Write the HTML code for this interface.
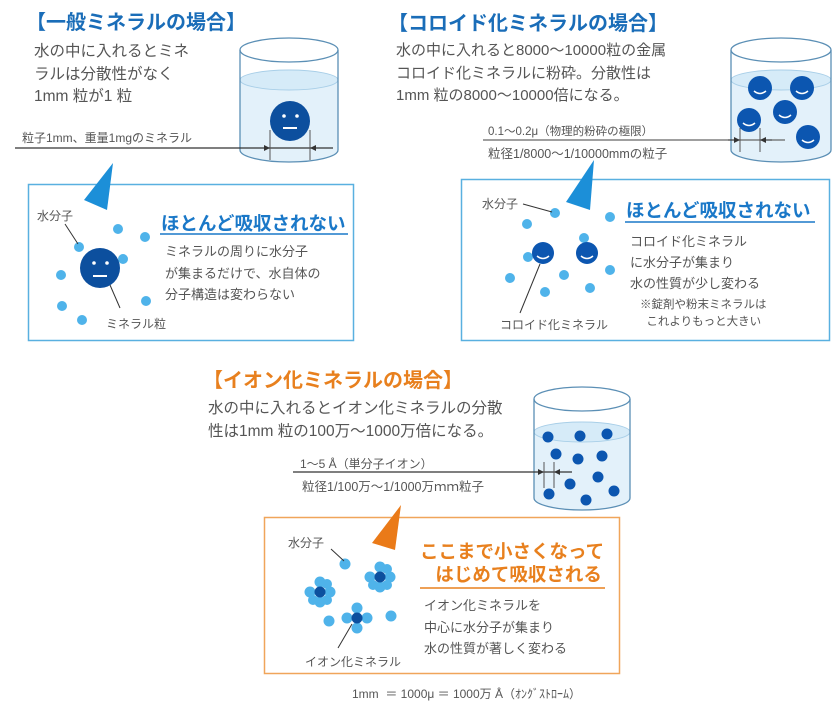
<!DOCTYPE html>
<html><head><meta charset="utf-8"><style>
html,body{margin:0;padding:0;background:#fff;}
body{width:840px;height:710px;position:relative;overflow:hidden;font-family:"Liberation Sans","Noto Sans CJK JP",sans-serif;}
.t{position:absolute;white-space:nowrap;color:#555;}
.h{font-weight:bold;color:#1a6db8;font-size:20px;}
.b{font-size:15.5px;line-height:22.5px;color:#555;}
.s{font-size:12px;color:#555;}
.hd{font-weight:bold;color:#1a78c8;font-size:18.5px;}
.o{color:#e8801e;}
svg{position:absolute;left:0;top:0;}
</style></head><body>
<svg width="840" height="710" viewBox="0 0 840 710">
<defs>
<marker id="ar" viewBox="0 0 10 10" refX="10" refY="5" markerWidth="6" markerHeight="6" orient="auto"><path d="M0,0L10,5L0,10z" fill="#333"/></marker>
</defs>
<path d="M240,80 A49,10 0 0 0 338,80 L338,150 A49,12 0 0 1 240,150 Z" fill="#e3f1fa"/>
<ellipse cx="289" cy="80" rx="49" ry="10" fill="#d6ebf8" stroke="#a9cfe8" stroke-width="1"/>
<ellipse cx="289" cy="50" rx="49" ry="12" fill="none" stroke="#5b8fb5" stroke-width="1.3"/>
<path d="M240,50 L240,150 A49,12 0 0 0 338,150 L338,50" fill="none" stroke="#5b8fb5" stroke-width="1.3"/>
<circle cx="290" cy="121" r="20" fill="#0c4f9e"/>
<circle cx="284" cy="116" r="1.8" fill="#fff"/><circle cx="297" cy="116" r="1.8" fill="#fff"/>
<rect x="283" y="127" width="14" height="2" fill="#fff"/>
<line x1="15" y1="148" x2="333" y2="148" stroke="#333" stroke-width="1.2"/>
<line x1="270" y1="130" x2="270" y2="160" stroke="#555"/><line x1="310" y1="130" x2="310" y2="160" stroke="#555"/>
<line x1="255" y1="148" x2="270" y2="148" stroke="#333" marker-end="url(#ar)"/>
<line x1="325" y1="148" x2="310" y2="148" stroke="#333" marker-end="url(#ar)"/>
<rect x="28.5" y="184.5" width="325" height="156" fill="none" stroke="#59b0e0" stroke-width="1.5"/>
<polygon points="113,163 84,200 107,210" fill="#1c8fd8"/>
<line x1="160" y1="234" x2="348" y2="234" stroke="#1a78c8" stroke-width="1.5"/>
<g fill="#4fb3ea"><circle cx="118" cy="229" r="5"/><circle cx="145" cy="237" r="5"/><circle cx="79" cy="247" r="5"/><circle cx="123" cy="259" r="5"/><circle cx="61" cy="275" r="5"/><circle cx="146" cy="301" r="5"/><circle cx="62" cy="306" r="5"/><circle cx="82" cy="320" r="5"/></g>
<circle cx="100" cy="268" r="20" fill="#0c4f9e"/>
<circle cx="94" cy="263" r="1.8" fill="#fff"/><circle cx="107" cy="263" r="1.8" fill="#fff"/>
<rect x="93" y="275" width="14" height="2" fill="#fff"/>
<line x1="65" y1="224" x2="78" y2="244" stroke="#333"/>
<line x1="110" y1="285" x2="120" y2="308" stroke="#333"/>
<path d="M731,80 A50,10 0 0 0 831,80 L831,150 A50,12 0 0 1 731,150 Z" fill="#e3f1fa"/>
<ellipse cx="781" cy="80" rx="50" ry="10" fill="#d6ebf8" stroke="#a9cfe8"/>
<ellipse cx="781" cy="50" rx="50" ry="12" fill="none" stroke="#5b8fb5" stroke-width="1.3"/>
<path d="M731,50 L731,150 A50,12 0 0 0 831,150 L831,50" fill="none" stroke="#5b8fb5" stroke-width="1.3"/>
<g fill="#0c56b0"><circle cx="760" cy="88" r="12"/><circle cx="802" cy="88" r="12"/><circle cx="785" cy="112" r="12"/><circle cx="749" cy="120" r="12"/><circle cx="808" cy="137" r="12"/></g>
<g stroke="#fff" stroke-width="1.5" fill="none"><path d="M754,91 q6,5 12,0"/><path d="M796,91 q6,5 12,0"/><path d="M779,115 q6,5 12,0"/><path d="M743,123 q6,5 12,0"/><path d="M802,140 q6,5 12,0"/></g>
<line x1="483" y1="140" x2="785" y2="140" stroke="#666" stroke-width="1.2"/>
<line x1="728" y1="140" x2="740" y2="140" stroke="#333" marker-end="url(#ar)"/>
<line x1="772" y1="140" x2="760" y2="140" stroke="#333" marker-end="url(#ar)"/>
<line x1="740" y1="128" x2="740" y2="152" stroke="#555"/><line x1="760" y1="128" x2="760" y2="152" stroke="#555"/>
<rect x="461.5" y="179.5" width="368" height="161" fill="none" stroke="#59b0e0" stroke-width="1.5"/>
<polygon points="594,160 566,202 590,210" fill="#1c8fd8"/>
<line x1="625" y1="222" x2="815" y2="222" stroke="#1a78c8" stroke-width="1.5"/>
<g fill="#4fb3ea"><circle cx="555" cy="213" r="5"/><circle cx="527" cy="224" r="5"/><circle cx="610" cy="217" r="5"/><circle cx="584" cy="238" r="5"/><circle cx="528" cy="257" r="5"/><circle cx="610" cy="270" r="5"/><circle cx="564" cy="275" r="5"/><circle cx="510" cy="278" r="5"/><circle cx="590" cy="288" r="5"/><circle cx="545" cy="292" r="5"/></g>
<circle cx="543" cy="253" r="11" fill="#0c56b0"/><circle cx="587" cy="253" r="11" fill="#0c56b0"/>
<g stroke="#fff" stroke-width="1.5" fill="none"><path d="M537,256 q6,5 12,0"/><path d="M581,256 q6,5 12,0"/></g>
<line x1="523" y1="204" x2="552" y2="212" stroke="#333"/>
<line x1="540" y1="264" x2="520" y2="313" stroke="#333"/>
<path d="M534,432 A48,10 0 0 0 630,432 L630,498 A48,12 0 0 1 534,498 Z" fill="#e3f1fa"/>
<ellipse cx="582" cy="432" rx="48" ry="10" fill="#d6ebf8" stroke="#a9cfe8"/>
<ellipse cx="582" cy="399" rx="48" ry="12" fill="none" stroke="#5b8fb5" stroke-width="1.3"/>
<path d="M534,399 L534,498 A48,12 0 0 0 630,498 L630,399" fill="none" stroke="#5b8fb5" stroke-width="1.3"/>
<g fill="#0c56b0"><circle cx="548" cy="437" r="5.5"/><circle cx="580" cy="436" r="5.5"/><circle cx="607" cy="434" r="5.5"/><circle cx="556" cy="454" r="5.5"/><circle cx="578" cy="459" r="5.5"/><circle cx="602" cy="456" r="5.5"/><circle cx="598" cy="477" r="5.5"/><circle cx="570" cy="484" r="5.5"/><circle cx="549" cy="494" r="5.5"/><circle cx="586" cy="500" r="5.5"/><circle cx="614" cy="491" r="5.5"/></g>
<line x1="293" y1="472" x2="572" y2="472" stroke="#333" stroke-width="1.2"/>
<line x1="536" y1="472" x2="544" y2="472" stroke="#333" marker-end="url(#ar)"/>
<line x1="563" y1="472" x2="554" y2="472" stroke="#333" marker-end="url(#ar)"/>
<line x1="544" y1="462" x2="544" y2="488" stroke="#555"/><line x1="554" y1="462" x2="554" y2="488" stroke="#555"/>
<rect x="264.5" y="517.5" width="355" height="156" fill="none" stroke="#f0a55a" stroke-width="1.5"/>
<polygon points="401,505 372,543 395,550" fill="#ea7a18"/>
<line x1="420" y1="588" x2="605" y2="588" stroke="#e8801e" stroke-width="1.5"/>
<g fill="#4fb3ea">
<circle cx="345" cy="564" r="5.5"/><circle cx="329" cy="621" r="5.5"/><circle cx="391" cy="616" r="5.5"/>
<circle cx="320" cy="582" r="5.5"/><circle cx="330" cy="592" r="5.5"/><circle cx="320" cy="602" r="5.5"/><circle cx="310" cy="592" r="5.5"/><circle cx="327" cy="584" r="5"/><circle cx="313" cy="600" r="5"/><circle cx="327" cy="600" r="5"/>
<circle cx="380" cy="567" r="5.5"/><circle cx="390" cy="577" r="5.5"/><circle cx="380" cy="587" r="5.5"/><circle cx="370" cy="577" r="5.5"/><circle cx="387" cy="569" r="5"/><circle cx="373" cy="585" r="5"/><circle cx="387" cy="585" r="5"/>
<circle cx="357" cy="608" r="5.5"/><circle cx="367" cy="618" r="5.5"/><circle cx="357" cy="628" r="5.5"/><circle cx="347" cy="618" r="5.5"/>
</g>
<g fill="#0c4f9e"><circle cx="320" cy="592" r="5.5"/><circle cx="380" cy="577" r="5.5"/><circle cx="357" cy="618" r="5.5"/></g>
<line x1="331" y1="549" x2="344" y2="561" stroke="#333"/>
<line x1="352" y1="624" x2="338" y2="648" stroke="#333"/>
</svg>

<div class="t h" style="left:26px;top:6px;">【一般ミネラルの場合】</div>
<div class="t b" style="left:34px;top:41px;">水の中に入れるとミネ<br>ラルは分散性がなく<br>1mm 粒が1 粒</div>
<div class="t s" style="left:22px;top:129px;">粒子1mm、重量1mgのミネラル</div>
<div class="t s" style="left:37px;top:207px;">水分子</div>
<div class="t hd" style="left:161px;top:210px;">ほとんど吸収されない</div>
<div class="t" style="left:165px;top:241px;font-size:13px;line-height:21.5px;">ミネラルの周りに水分子<br>が集まるだけで、水自体の<br>分子構造は変わらない</div>
<div class="t s" style="left:106px;top:315px;">ミネラル粒</div>

<div class="t h" style="left:388px;top:7px;">【コロイド化ミネラルの場合】</div>
<div class="t b" style="left:396px;top:40px;font-size:15px;">水の中に入れると8000〜10000粒の金属<br>コロイド化ミネラルに粉砕。分散性は<br>1mm 粒の8000〜10000倍になる。</div>
<div class="t s" style="left:488px;top:123px;font-size:11.5px;">0.1〜0.2μ（物理的粉砕の極限）</div>
<div class="t s" style="left:488px;top:143px;font-size:12.5px;">粒径1/8000〜1/10000mmの粒子</div>
<div class="t s" style="left:482px;top:195px;">水分子</div>
<div class="t hd" style="left:626px;top:197px;">ほとんど吸収されない</div>
<div class="t" style="left:630px;top:231px;font-size:13px;line-height:21px;">コロイド化ミネラル<br>に水分子が集まり<br>水の性質が少し変わる</div>
<div class="t s" style="left:640px;top:297px;font-size:11.5px;line-height:17px;">※錠剤や粉末ミネラルは<br>&nbsp;&nbsp;これよりもっと大きい</div>
<div class="t s" style="left:500px;top:316px;">コロイド化ミネラル</div>

<div class="t h o" style="left:203px;top:364px;">【イオン化ミネラルの場合】</div>
<div class="t b" style="left:208px;top:398px;">水の中に入れるとイオン化ミネラルの分散<br>性は1mm 粒の100万〜1000万倍になる。</div>
<div class="t s" style="left:300px;top:455px;">1〜5 Å（単分子イオン）</div>
<div class="t s" style="left:302px;top:476px;font-size:12.5px;">粒径1/100万〜1/1000万ｍｍ粒子</div>
<div class="t s" style="left:288px;top:534px;">水分子</div>
<div class="t hd o" style="left:420px;top:540px;line-height:23px;">ここまで小さくなって<br>&nbsp;&nbsp;&nbsp;はじめて吸収される</div>
<div class="t" style="left:424px;top:595px;font-size:13px;line-height:21.5px;">イオン化ミネラルを<br>中心に水分子が集まり<br>水の性質が著しく変わる</div>
<div class="t s" style="left:305px;top:653px;">イオン化ミネラル</div>
<div class="t s" style="left:352px;top:685px;font-size:12px;">1mm &nbsp;＝ 1000μ ＝ 1000万 Å（ｵﾝｸﾞｽﾄﾛｰﾑ）</div>
</body></html>
